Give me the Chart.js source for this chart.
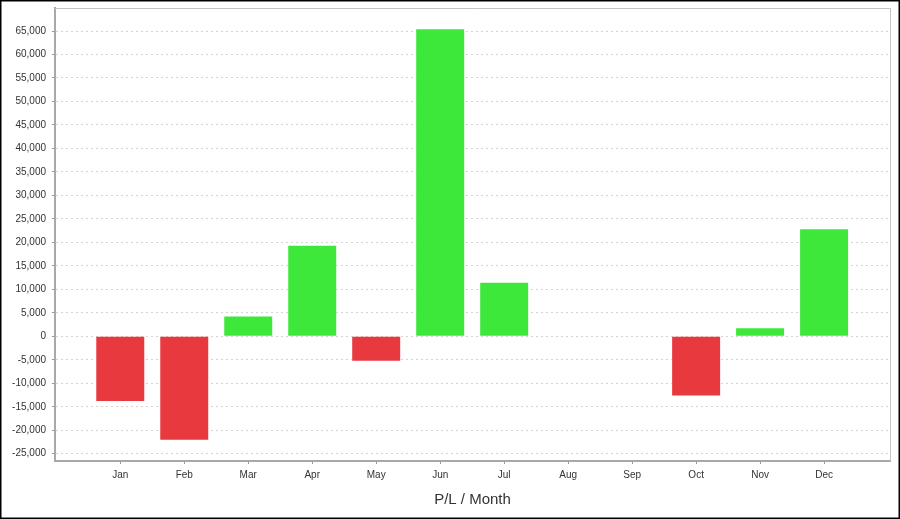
<!DOCTYPE html>
<html>
<head>
<meta charset="utf-8">
<script src="https://cdn.jsdelivr.net/npm/chart.js@4/dist/chart.umd.min.js"></script>
<style>
  html, body { margin: 0; padding: 0; background: #fff; }
  canvas { display: block; }
</style>
</head>
<body>
<canvas id="c" width="900" height="519"></canvas>
<script>
const months = ['Jan','Feb','Mar','Apr','May','Jun','Jul','Aug','Sep','Oct','Nov','Dec'];
const profitLoss = [-13800, -22000, 4200, 19300, -5200, 65400, 11400, 0, 0, -12600, 1700, 22800];
const yTickValues = [-25000,-20000,-15000,-10000,-5000,0,5000,10000,15000,20000,25000,30000,35000,40000,45000,50000,55000,60000,65000];
const axisTitle = 'P/L / Month';

const RED = 'rgb(232,57,62)';
const GREEN = 'rgb(62,232,58)';

const framePlugin = {
  id: 'frame',
  beforeDraw(chart) {
    const ctx = chart.ctx;
    ctx.save();
    ctx.fillStyle = '#fff';
    ctx.fillRect(0, 0, chart.width, chart.height);
    ctx.restore();
  },
  afterDraw(chart) {
    const ctx = chart.ctx;
    const a = chart.chartArea;
    ctx.save();
    ctx.strokeStyle = '#c4c4c4';
    ctx.lineWidth = 1;
    ctx.beginPath();
    ctx.moveTo(a.left, a.top + 0.5);
    ctx.lineTo(a.right + 0.5, a.top + 0.5);
    ctx.lineTo(a.right + 0.5, a.bottom);
    ctx.stroke();
    ctx.strokeStyle = '#000';
    ctx.lineWidth = 1.5;
    ctx.strokeRect(0.75, 0.75, chart.width - 1.5, chart.height - 1.5);
    ctx.restore();
  }
};

new Chart(document.getElementById('c'), {
  type: 'bar',
  data: {
    datasets: [{
      data: months.map((m, i) => ({ x: i, y: profitLoss[i] })),
      backgroundColor: profitLoss.map(v => v < 0 ? RED : GREEN),
      borderWidth: 0,
      barPercentage: 1,
      categoryPercentage: 0.75
    }]
  },
  options: {
    responsive: false,
    animation: false,
    devicePixelRatio: 1,
    layout: { padding: { left: 0, top: 8, right: 10, bottom: 0 } },
    plugins: { legend: { display: false }, tooltip: { enabled: false } },
    scales: {
      x: {
        type: 'linear',
        offset: false,
        min: -1.02,
        max: 12.03,
        afterBuildTicks(scale) { scale.ticks = months.map((m, i) => ({ value: i })); },
        afterFit(scale) { scale.height = 58; scale.paddingLeft = 0; scale.paddingRight = 0; },
        grid: { offset: false, drawOnChartArea: false, drawTicks: true, tickLength: 3, tickColor: '#999', tickWidth: 1 },
        border: { display: true, color: '#a8a8a8', width: 2 },
        ticks: {
          padding: 5,
          color: '#333',
          font: { family: 'Liberation Sans, Arial, sans-serif', size: 10 },
          callback: (v) => months[v],
          maxRotation: 0,
          autoSkip: false
        },
        title: {
          display: true,
          text: axisTitle,
          color: '#333',
          font: { family: 'Liberation Sans, Arial, sans-serif', size: 15 },
          padding: { top: 0, bottom: 10 }
        }
      },
      y: {
        min: -26550,
        max: 69900,
        afterBuildTicks(scale) { scale.ticks = yTickValues.map(v => ({ value: v })); },
        afterFit(scale) { scale.width = 55; scale.paddingTop = 0; scale.paddingBottom = 0; },
        grid: { color: '#d4d4d4', lineWidth: 1, drawTicks: true, tickLength: 3, tickColor: '#999' },
        border: { display: true, color: '#a8a8a8', width: 2, dash: [2, 3] },
        ticks: {
          padding: 6,
          color: '#333',
          font: { family: 'Liberation Sans, Arial, sans-serif', size: 10 },
          callback: (v) => Number(v).toLocaleString('en-US'),
          autoSkip: false
        }
      }
    }
  },
  plugins: [framePlugin]
});
</script>
</body>
</html>
